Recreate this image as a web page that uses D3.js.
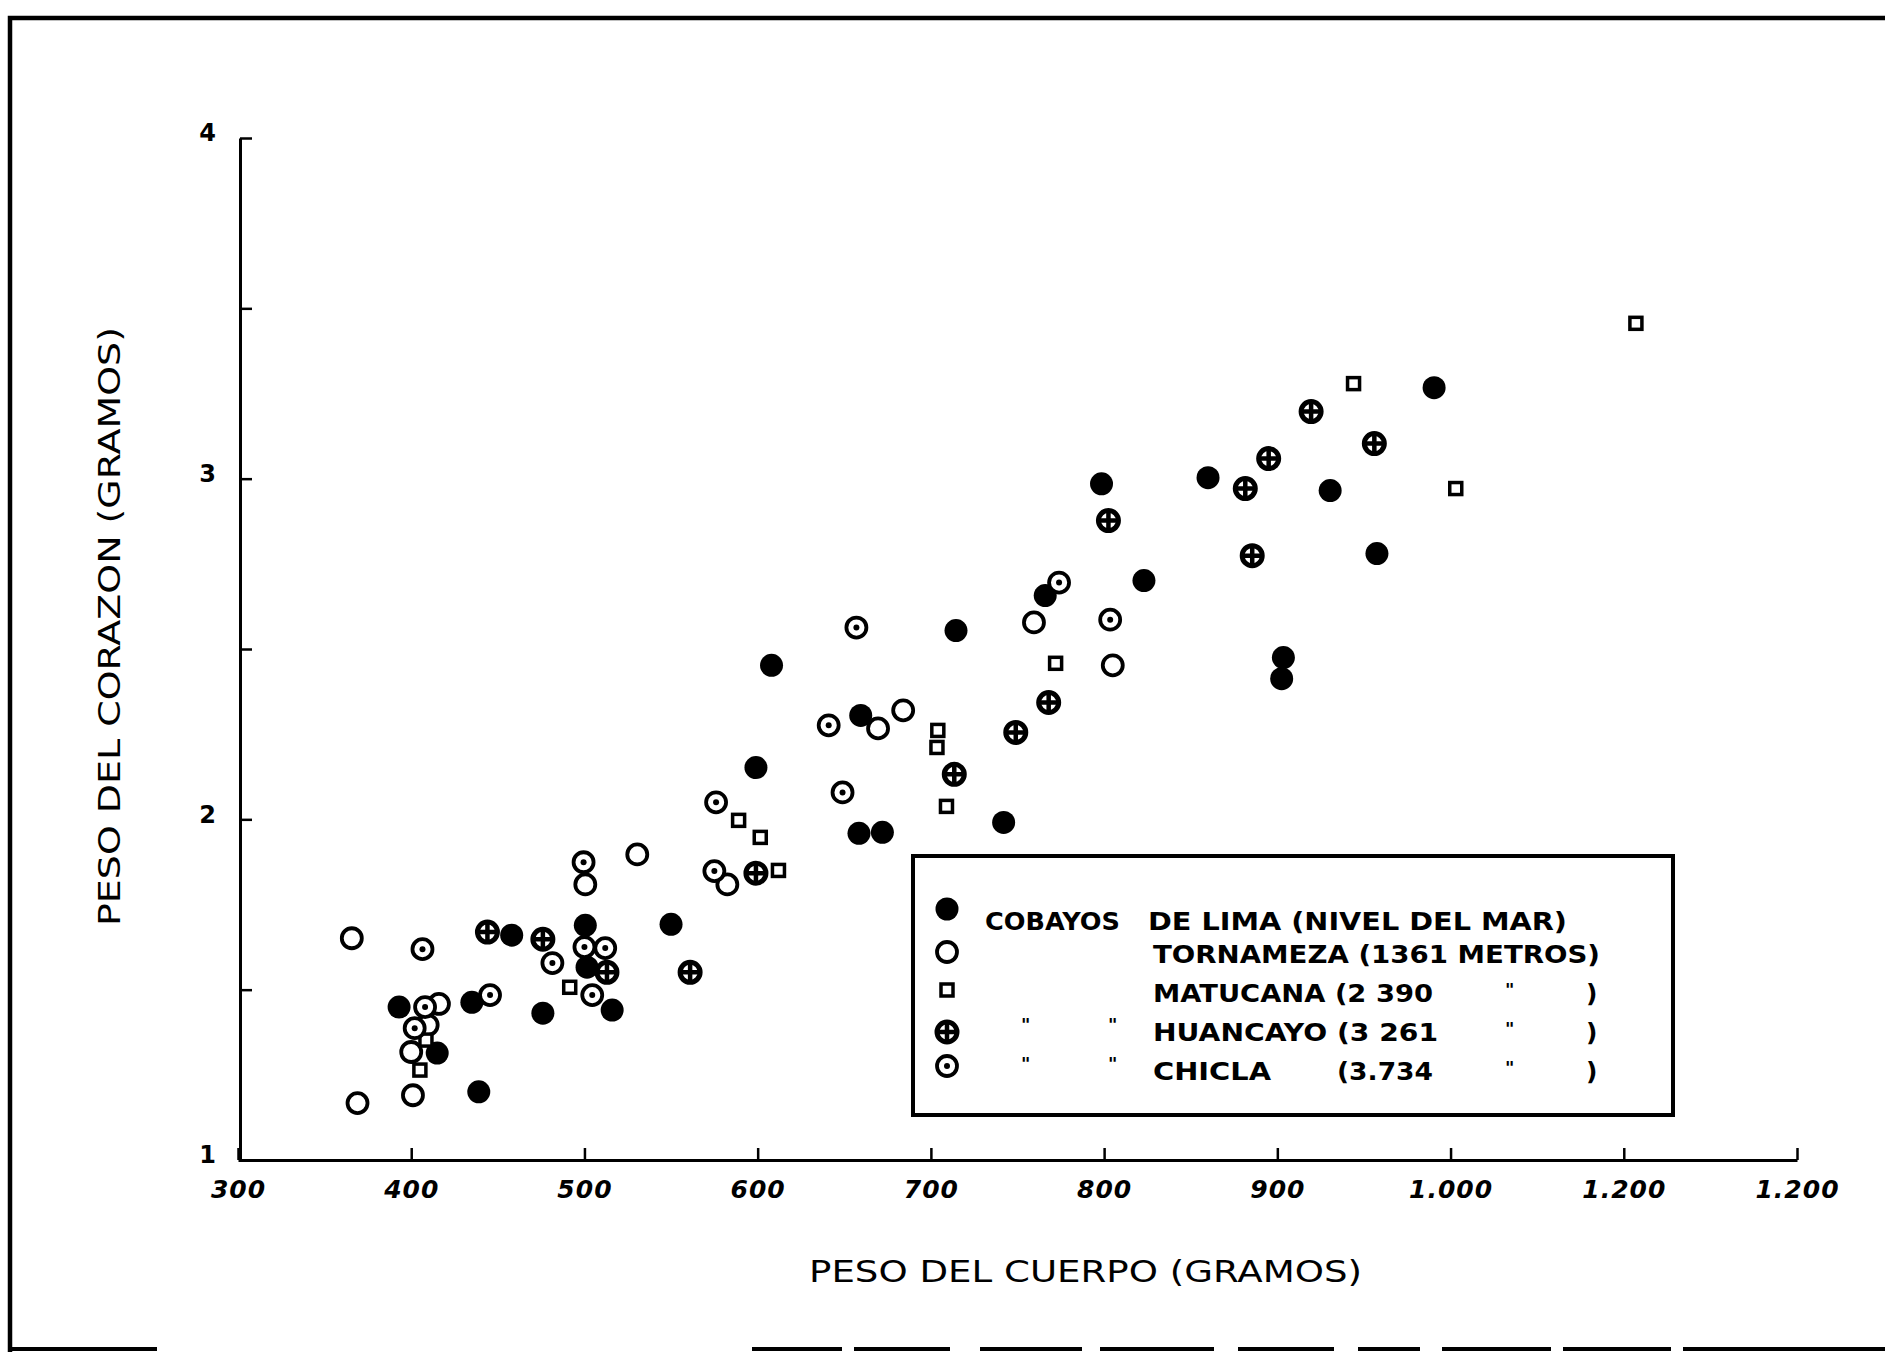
<!DOCTYPE html>
<html>
<head>
<meta charset="utf-8">
<title>Peso del corazon vs peso del cuerpo</title>
<style>
  body, html { margin: 0; padding: 0; background: #fff; }
  svg { display: block; }
  text { font-family: "DejaVu Sans", sans-serif; fill: #000; }
</style>
</head>
<body>
<svg id="svg" width="1885" height="1355"></svg>
<script src="https://d3js.org/d3.v7.min.js"></script>
<script>
// tick values and the labels as printed on the original
const xTicks = [300, 400, 500, 600, 700, 800, 900, 1000, 1100, 1200]
const xTickLabels = ["300", "400", "500", "600", "700", "800", "900", "1.000", "1.200", "1.200"]
const yTicks = [1, 1.5, 2, 2.5, 3, 3.5, 4]
const yTickLabels = ["1", "", "2", "", "3", "", "4"]

// [peso del cuerpo, peso del corazon]
const lima = [[393, 1.449], [435, 1.463], [415, 1.314], [439, 1.200], [458, 1.660], [476, 1.431],
  [500.5, 1.689], [501.5, 1.566], [516, 1.440], [550, 1.692], [599, 2.152], [608, 2.452],
  [659.5, 2.305], [658.5, 1.959], [672, 1.962], [714.5, 2.554], [742, 1.991], [766, 2.657],
  [798.5, 2.985], [823, 2.701], [860, 3.003], [903.5, 2.475], [902.5, 2.413], [930.5, 2.965],
  [957.5, 2.780], [990.5, 3.267]]
const tornameza = [[365.7, 1.651], [369, 1.167], [401, 1.190], [400, 1.317], [409.5, 1.396],
  [416, 1.458], [500.5, 1.809], [530.5, 1.897], [582.5, 1.809], [669.5, 2.267], [684, 2.320],
  [759.5, 2.578], [805, 2.452]]
const matucana = [[405, 1.264], [408.5, 1.352], [491.5, 1.507], [589, 1.997], [601.5, 1.947],
  [612, 1.850], [704, 2.261], [703.5, 2.211], [709, 2.038], [772, 2.458], [944, 3.279],
  [1003, 2.971], [1107, 3.456]]
const huancayo = [[444, 1.669], [476, 1.648], [513, 1.551], [561, 1.551], [599, 1.842],
  [713.5, 2.132], [749, 2.255], [768, 2.343], [802.5, 2.877], [881.5, 2.971], [895, 3.059],
  [885.5, 2.774], [919.5, 3.197], [956, 3.103]]
const chicla = [[406.5, 1.619], [408, 1.449], [402, 1.387], [445.5, 1.484], [481.5, 1.578],
  [500, 1.625], [512, 1.622], [504.5, 1.484], [499.5, 1.874], [576, 2.050], [575, 1.848],
  [641, 2.276], [649, 2.079], [657, 2.563], [774, 2.695], [803.5, 2.586]]

const svg = d3.select("#svg")

const xScale = d3.scaleLinear().domain([300, 1200]).range([238, 1797])
const yScale = d3.scaleLinear().domain([1, 4]).range([1160, 138])

// frame around the sheet (the bottom edge is broken in the scan)
svg.append("path").attr("d", "M10,1352 V18 H1885")
  .attr("fill", "none").attr("stroke", "#000").attr("stroke-width", 4.5)
const bottomPieces = [[10, 157], [752, 842], [854, 950], [980, 1082], [1100, 1214], [1238, 1334],
  [1358, 1420], [1442, 1551], [1563, 1671], [1683, 1885]]
svg.append("g").selectAll("line").data(bottomPieces).enter().append("line")
  .attr("x1", d => d[0]).attr("x2", d => d[1]).attr("y1", 1349).attr("y2", 1349)
  .attr("stroke", "#000").attr("stroke-width", 4)

// axes
const xAxis = d3.axisBottom(xScale)
  .tickValues(xTicks)
  .tickFormat((d, i) => xTickLabels[i])
  .tickSizeInner(-12).tickSizeOuter(0).tickPadding(20)

const gx = svg.append("g").attr("transform", "translate(0,1160)").call(xAxis)
gx.select(".domain").attr("stroke-width", 3)
gx.selectAll(".tick line").attr("stroke-width", 2.5)
gx.selectAll(".tick text")
  .attr("font-size", 25).attr("font-weight", "bold").attr("font-style", "italic")
  .attr("font-family", "DejaVu Sans").attr("letter-spacing", 1)

const yAxis = d3.axisLeft(yScale)
  .tickValues(yTicks)
  .tickFormat((d, i) => yTickLabels[i])
  .tickSizeInner(-12).tickSizeOuter(0).tickPadding(24)

const gy = svg.append("g").attr("transform", "translate(240,0)").call(yAxis)
gy.select(".domain").attr("stroke-width", 3)
gy.selectAll(".tick line").attr("stroke-width", 2.5)
gy.selectAll(".tick text")
  .attr("font-size", 24).attr("font-weight", "bold")
  .attr("font-family", "DejaVu Sans").attr("dy", "0.12em")

// axis titles
svg.append("text")
  .attr("x", 809).attr("y", 1282)
  .attr("font-size", 31)
  .attr("textLength", 553).attr("lengthAdjust", "spacingAndGlyphs")
  .text("PESO DEL CUERPO (GRAMOS)")

svg.append("text")
  .attr("transform", "translate(120,926) rotate(-90)")
  .attr("font-size", 31)
  .attr("textLength", 599).attr("lengthAdjust", "spacingAndGlyphs")
  .text("PESO DEL CORAZON (GRAMOS)")

// marker painters
function drawMarker(g, kind) {
  if (kind === "lima") {
    g.append("circle").attr("r", 11.5).attr("fill", "#000")
  } else if (kind === "tornameza") {
    g.append("circle").attr("r", 10).attr("fill", "#fff").attr("stroke", "#000").attr("stroke-width", 3.8)
  } else if (kind === "matucana") {
    g.append("rect").attr("x", -6).attr("y", -6).attr("width", 12).attr("height", 12)
      .attr("fill", "#fff").attr("stroke", "#000").attr("stroke-width", 3.5)
  } else if (kind === "huancayo") {
    g.append("circle").attr("r", 10).attr("fill", "#fff").attr("stroke", "#000").attr("stroke-width", 5)
    g.append("path").attr("d", "M-9,0H9M0,-9V9").attr("stroke", "#000").attr("stroke-width", 4.5)
  } else if (kind === "chicla") {
    g.append("circle").attr("r", 10).attr("fill", "#fff").attr("stroke", "#000").attr("stroke-width", 3.8)
    g.append("circle").attr("r", 3).attr("fill", "#000")
  }
}

const series = [
  { kind: "lima", data: lima },
  { kind: "tornameza", data: tornameza },
  { kind: "matucana", data: matucana },
  { kind: "huancayo", data: huancayo },
  { kind: "chicla", data: chicla }
]

const plot = svg.append("g")
series.forEach(s => {
  plot.selectAll(null).data(s.data).enter().append("g")
    .attr("transform", d => `translate(${xScale(d[0])},${yScale(d[1])})`)
    .each(function () { drawMarker(d3.select(this), s.kind) })
})

// legend
const legendKinds = ["lima", "tornameza", "matucana", "huancayo", "chicla"]
const legendLabels = ["DE LIMA (NIVEL DEL MAR)", "TORNAMEZA (1361 METROS)", "MATUCANA (2 390", "HUANCAYO (3 261", "CHICLA"]
const legendLabelWidths = [419, 447, 280, 285, 118]

const legend = svg.append("g")
legend.append("rect")
  .attr("x", 913).attr("y", 856).attr("width", 760).attr("height", 259)
  .attr("fill", "#fff").attr("stroke", "#000").attr("stroke-width", 4)

const markerY = [909, 952, 990, 1032, 1066]
const textY = [930, 963, 1002, 1041, 1080]

legendKinds.forEach((k, i) => {
  const g = legend.append("g").attr("transform", `translate(947,${markerY[i]})`)
  drawMarker(g, k)
  legend.append("text")
    .attr("x", i === 0 ? 1148 : 1153).attr("y", textY[i])
    .attr("font-size", 25).attr("font-weight", "bold")
    .attr("textLength", legendLabelWidths[i]).attr("lengthAdjust", "spacingAndGlyphs")
    .text(legendLabels[i])
})

const lt = (x, y, s, extra) => {
  const t = legend.append("text").attr("x", x).attr("y", y)
    .attr("font-size", 25).attr("font-weight", "bold").text(s)
  if (extra) t.attr("textLength", extra).attr("lengthAdjust", "spacingAndGlyphs")
  return t
}
lt(985, textY[0], "COBAYOS", 135)
lt(1337, textY[4], "(3.734", 96)
// ditto marks and closing brackets
;[2, 3, 4].forEach(i => {
  lt(1505, textY[i] - 6, "\"").attr("font-size", 18)
  lt(1586, textY[i], ")")
})
;[3, 4].forEach(i => {
  lt(1021, textY[i] - 10, "\"").attr("font-size", 18)
  lt(1108, textY[i] - 10, "\"").attr("font-size", 18)
})
</script>
</body>
</html>
